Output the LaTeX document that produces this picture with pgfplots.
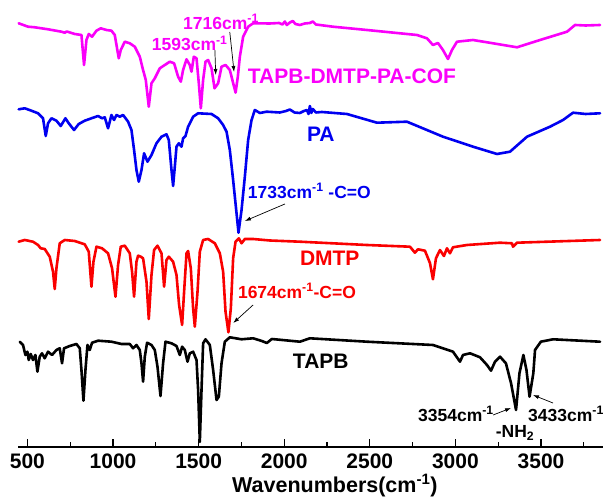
\documentclass[border=0pt]{standalone}
\usepackage{fontspec}
\setmainfont{Liberation Sans}
\usepackage{pgfplots}
\pgfplotsset{compat=1.18}
\usetikzlibrary{arrows.meta}

\definecolor{cofC}{RGB}{250,0,250}
\definecolor{paC}{RGB}{0,0,240}
\definecolor{dmtpC}{RGB}{250,0,0}

\newcommand{\lab}{\fontsize{21}{21}\selectfont\bfseries}
\newcommand{\ann}{\fontsize{17.5}{18}\selectfont\bfseries}

\begin{document}
\begin{tikzpicture}
\useasboundingbox (-18pt,-50pt) rectangle (585pt,447pt);
\begin{axis}[
  at={(0,0)}, anchor=south west,
  scale only axis, width=585pt, height=447pt,
  xmin=445, xmax=3862, ymin=0, ymax=447,
  axis x line=bottom, axis y line=none,
  x axis line style={-, line width=1.3pt},
  xtick={500,1000,...,3500},
  minor xtick={750,1250,...,3750},
  tick align=inside,
  major tick length=8pt, minor tick length=5pt,
  every tick/.style={black, line width=1.2pt},
  xticklabel style={font=\lab, yshift=-3pt},
  /pgf/number format/assume math mode=true,
  /pgf/number format/1000 sep={},
  xlabel={Wavenumbers(cm\textsuperscript{-1})},
  xlabel style={font=\fontsize{21.5}{21.5}\selectfont\bfseries, at={(axis cs:2296,0)}, anchor=north, inner sep=0pt, yshift=-27pt},
  clip=false,
  every axis plot/.append style={line join=round, line cap=round},
]

% TAPB-DMTP-PA-COF
\addplot[cofC, line width=2.6pt] coordinates {
(449,423.7) (503.5,420.3) (542.7,419.7) (620.4,417.7) (698.7,415.3) (718,414.3) (730,415.5)
(776.4,413) (815.6,412) (830.8,382) (844.8,407) (858.3,413) (877.6,410.3) (903.3,416.3)
(928.4,418.7) (961.7,417) (990.9,416.3) (1010.2,412) (1033.6,388.7) (1045.3,397)
(1068.7,405.3) (1097.9,403.7) (1127.1,400.3) (1156.3,390.3) (1175.6,377) (1191.4,367)
(1208.9,340.3) (1224.7,363.7) (1244,368.7) (1273.2,378.7) (1302.4,382) (1331.6,385.3)
(1356.8,383.7) (1380.2,370.3) (1396,365.3) (1409.4,377) (1429.3,387.7) (1448.6,382)
(1458.5,375.3) (1471.9,390.3) (1487.7,388.7) (1501.2,363.7) (1512.9,338.7) (1526.3,367)
(1540.3,385.3) (1555.5,387) (1575.4,378.7) (1593,358.7) (1614,363.7) (1633.8,380.3)
(1657.2,382) (1682.3,377) (1716,354.3) (1729,370.3) (1740.8,390.3) (1760.1,410.3)
(1789.3,420.3) (1818.5,423.7) (1916,423.5) (1970,424) (1990,422.5) (2003.8,425.5)
(2015,422) (2033,424.5) (2050.5,426) (2065,423) (2091.5,422) (2120,423.5) (2150,424)
(2167.4,425.5) (2185,422.5) (2284.3,420.3) (2483,417) (2775.3,412) (2833.7,408.7)
(2868.8,402) (2898,404) (2927.2,397) (2956.5,388) (2979.9,397) (3009.1,405.3)
(3102.6,407) (3219.5,403.7) (3359.7,399.7) (3494.2,407) (3652,415.3) (3698.7,422)
(3760,421.5) (3844.8,422)
};

% PA
\addplot[paC, line width=2.6pt] coordinates {
(449,337.7) (484.2,338.7) (523.4,336.3) (562,333.7) (591.2,328.7) (607,311) (620.4,323.7)
(640.3,328.7) (669.5,326.3) (694.6,321) (722.1,328.7) (741.4,323.7) (772.4,317)
(799.8,323) (834.9,326.3) (874,328.7) (912.6,331) (936,328.7) (951.8,329.7) (971.1,318.7)
(990.9,332) (1006.1,327) (1020.2,332) (1039.5,330.3) (1058.7,332) (1088,325.3)
(1107.8,317) (1123,297) (1137,277) (1150.5,265.3) (1166.3,277) (1181.5,293.7)
(1201.3,285.3) (1224.7,292) (1253.9,303.7) (1283.2,310.3) (1312.4,312.7) (1325.8,307)
(1341.6,277) (1351,261) (1360.9,280.3) (1370.8,300.3) (1384.3,303.7) (1400,300.3)
(1409.4,308.7) (1423.4,311) (1438.6,320.3) (1467.8,330.3) (1497.1,333.7) (1575.4,333)
(1614,328.7) (1643.2,322) (1663.1,315.3) (1682.3,297) (1701.6,267) (1721.5,233.7)
(1733,214.3) (1750.7,237) (1770,270.3) (1789.3,307) (1809.2,327) (1828.5,337)
(1857.7,334) (1896.8,335.3) (1974.6,334.5) (2010,336) (2033,337.5) (2060,334.5)
(2091.5,334) (2115,336) (2132.4,337) (2142,333) (2149.9,341) (2158,334) (2167.4,338)
(2185,334.5) (2220,335) (2366.2,333) (2541.5,324.3) (2716.8,325.3) (2927.2,310.3)
(3102.6,300.3) (3242.8,293) (3318.8,295.3) (3418.2,310.3) (3552.6,320.3) (3628.6,327)
(3687,334.3) (3760,333) (3844.8,333.7)
};

% DMTP
\addplot[dmtpC, line width=2.6pt] coordinates {
(449,205.3) (484.2,207) (532.7,205.3) (562,202) (577.7,198.7) (601.1,198) (630.3,190.3)
(649.6,175.3) (659.6,158) (669.5,178.7) (688.8,203.7) (718,207) (776.4,206)
(834.9,202.7) (858.3,195.3) (874,160.3) (885.7,185.3) (903.3,200.3) (936,198.7)
(971.1,193.7) (994.4,178.7) (1014.3,150.3) (1029.5,182) (1045.3,200.3) (1068.7,201.3)
(1097.9,193.7) (1111.3,175.3) (1123,150.3) (1137,185.3) (1146.4,191.3) (1162.2,190.3)
(1175.6,188.7) (1195.5,165.3) (1208.9,128) (1224.7,172) (1239.9,197) (1259.8,201.3)
(1283.2,193.7) (1298.4,160.3) (1312.4,187) (1325.8,190.3) (1351,185.3) (1370.8,172)
(1386,142) (1403.6,122) (1415.2,155.3) (1429.3,193.7) (1438.6,196) (1454.4,178.7)
(1467.8,138.7) (1477.8,120.3) (1493.6,155.3) (1507,195.3) (1526.3,207) (1555.5,208)
(1594.7,203.7) (1623.9,193.7) (1643.2,175.3) (1657.2,135.3) (1674,114.7) (1688.2,138.7)
(1701.6,188.7) (1715.7,205.3) (1735,208.7) (1750.7,203.7) (1770,208) (1818.5,208)
(1916,206.5) (2091.5,205.3) (2483,202) (2734.3,200.3) (2763.5,194.3) (2781,197.7)
(2822,196.3) (2851.2,184) (2868.8,167.7) (2886.3,188.7) (2909.7,197) (2933,191)
(2950.6,198.7) (2968.1,193.7) (2985.7,199.7) (3067.5,202) (3260.4,204.3) (3330.5,203.7)
(3336.4,200.3) (3359.7,204.3) (3844.8,207)
};

% TAPB
\addplot[black, line width=2.6pt] coordinates {
(455,105.3) (474.3,102) (488.3,92) (500,95.3) (507.6,87) (519.3,93) (532.7,87)
(546.8,92) (558.4,75.3) (571.9,90.3) (585.3,93.7) (601.1,88.7) (620.4,95.3) (643.8,92)
(669.5,97) (688.8,98.7) (702.2,83.7) (713.9,98.7) (747.2,101) (786.4,103) (805.7,98.7)
(815.6,77) (827.3,46.3) (839,77) (850.7,102) (864.1,97) (877.6,104.3) (912.6,106.3)
(990.9,105.3) (1049.4,103) (1097.9,103) (1117.2,98.7) (1137,102) (1156.3,97)
(1166.3,83.7) (1175.6,65.3) (1185.6,90.3) (1199,104.3) (1224.7,102) (1244,97)
(1259.8,80.3) (1277.3,51) (1292.5,83.7) (1306.5,105.3) (1341.6,103.7) (1370.8,101)
(1390.1,92) (1403.6,100.3) (1419.3,97) (1435.1,85.3) (1448.6,93.7) (1467.8,95.3)
(1487.7,87) (1497.1,57) (1507,5) (1516.9,57) (1526.3,103.7) (1540.3,107.7)
(1565.5,102) (1584.8,77) (1604.6,47) (1618.1,50.3) (1633.8,83.7) (1653.1,105.3)
(1682.3,109.7) (1750.7,107.7) (1818.5,108.7) (1869.4,106) (1898.6,104) (1927.8,108)
(2091.5,105.3) (2149.9,108.7) (2483,105.3) (2868.8,102) (2985.7,95.3) (3026.6,85.3)
(3044.2,92) (3085.1,93.7) (3143.5,89.7) (3184.4,82) (3207.8,76.3) (3231.2,85.3)
(3260.4,90.3) (3295,83.7) (3325,63.7) (3354,37) (3374,73.7) (3397,92) (3415,77)
(3433,50.3) (3455,73.7) (3465,97) (3499,105.3) (3570,107.7) (3844.8,105.3)
};

% curve names
\node[cofC, font=\lab, anchor=west, inner sep=0pt] at (axis cs:1787,371) {TAPB-DMTP-PA-COF};
\node[paC, font=\lab, anchor=west, inner sep=0pt] at (axis cs:2132,313) {PA};
\node[dmtpC, font=\lab, anchor=west, inner sep=0pt] at (axis cs:2091,189) {DMTP};
\node[black, font=\lab, anchor=west, inner sep=0pt] at (axis cs:2050,85.5) {TAPB};

% band assignments
\node[cofC, font=\ann, anchor=west, inner sep=0pt] at (axis cs:1409,425) {1716cm\textsuperscript{-1}};
\node[cofC, font=\ann, anchor=west, inner sep=0pt] at (axis cs:1226,403.5) {1593cm\textsuperscript{-1}};
\draw[-{Latex[length=6pt,width=4pt]}, line width=0.7pt] (axis cs:1595,397) -- (axis cs:1600,372);
\draw[-{Latex[length=6pt,width=4pt]}, line width=0.7pt] (axis cs:1682,415) -- (axis cs:1707,375);

\node[paC, font=\ann, anchor=west, inner sep=0pt] at (axis cs:1787,256) {1733cm\textsuperscript{-1} -C=O};
\draw[-{Latex[length=6pt,width=4pt]}, line width=0.7pt] (axis cs:2004,243) -- (axis cs:1770,226);

\node[dmtpC, font=\ann, anchor=west, inner sep=0pt] at (axis cs:1729,156) {1674cm\textsuperscript{-1}-C=O};
\draw[-{Latex[length=6pt,width=4pt]}, line width=0.7pt] (axis cs:1818,142) -- (axis cs:1702,124);

\node[black, font=\ann, anchor=west, inner sep=0pt] at (axis cs:2781,33) {3354cm\textsuperscript{-1}};
\draw[-{Latex[length=6pt,width=4pt]}, line width=0.7pt] (axis cs:3220,32) -- (axis cs:3325,39);
\node[black, font=\ann, anchor=west, inner sep=0pt] at (axis cs:3424,33) {3433cm\textsuperscript{-1}};
\draw[-{Latex[length=6pt,width=4pt]}, line width=0.7pt] (axis cs:3570,44) -- (axis cs:3453,52);
\node[black, font=\ann, inner sep=0pt] at (axis cs:3348,14) {-NH\textsubscript{2}};

\end{axis}
\end{tikzpicture}
\end{document}
